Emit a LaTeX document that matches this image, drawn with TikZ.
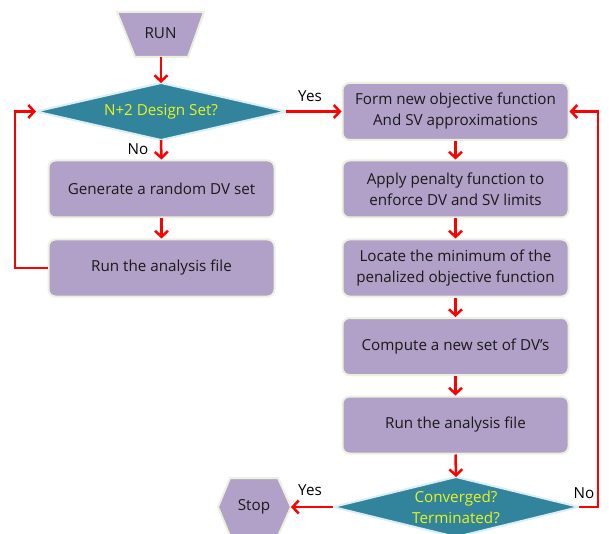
\documentclass[tikz,border=0pt]{standalone}
\usepackage{fontspec}
\setmainfont{Open Sans}
\usetikzlibrary{arrows.meta}
\definecolor{boxfill}{HTML}{B1A0C7}
\definecolor{boxedge}{HTML}{EBF1DE}
\definecolor{decfill}{HTML}{31849B}
\definecolor{decedge}{HTML}{DAEEF3}
\definecolor{ytext}{HTML}{E8F51C}
\definecolor{arrowred}{HTML}{FF0000}
\definecolor{txt}{HTML}{1A1A1A}
\tikzset{
  box/.style={draw=boxedge, line width=2pt, fill=boxfill, rounded corners=7pt,
    minimum width=226pt, minimum height=57pt, align=center,
    font=\fontsize{15.2}{21}\selectfont, text=txt, inner sep=0pt},
  shapeline/.style={draw=boxedge, line width=2pt, fill=boxfill},
  decline/.style={draw=decedge, line width=2pt, fill=decfill},
  dectext/.style={font=\fontsize{15.2}{21}\selectfont, text=ytext, align=center},
  plain/.style={font=\fontsize{15.2}{21}\selectfont, text=txt, align=center},
  flow/.style={draw=arrowred, line width=2.5pt, -{Straight Barb[length=6pt,width=13pt,line width=2.5pt]}},
  lbl/.style={font=\fontsize{15.2}{18}\selectfont, text=black, inner sep=0pt}
}
\begin{document}
\begin{tikzpicture}[x=1pt,y=-1pt]
\useasboundingbox (0,0) rectangle (609,534);

% RUN trapezoid
\path[shapeline] (117,12) -- (204,12) -- (188,57) -- (135,57) -- cycle;
\node[plain] (run) at (160.5,33) {RUN};
\coordinate (runb) at (161,57);

% diamond 1
\path[decline] (36,111.5) -- (161,83) -- (286,111.5) -- (161,140) -- cycle;
\node[dectext] (d1) at (161,111.5) {N+2 Design Set?};
\coordinate (d1t) at (161,83);
\coordinate (d1b) at (161,140);
\coordinate (d1l) at (36,111.5);
\coordinate (d1r) at (286,111.5);

% left column
\node[box] (gen) at (161.5,189) {Generate a random DV set};
\node[box] (runa) at (161.5,268) {Run the analysis file};

% right column
\node[box] (form) at (455.5,111.5) {Form new objective function\\And SV approximations};
\node[box] (pen) at (455.5,189) {Apply penalty function to\\enforce DV and SV limits};
\node[box] (loc) at (455.5,268) {Locate the minimum of the\\penalized objective function};
\node[box] (comp) at (455.5,346.5) {Compute a new set of DV's};
\node[box] (runb2) at (455.5,425) {Run the analysis file};

% diamond 2
\path[decline] (333,507) -- (456,477) -- (579,507) -- (456,537) -- cycle;
\node[dectext] (d2) at (456,507) {Converged?\\Terminated?};
\coordinate (d2t) at (456,477);
\coordinate (d2l) at (333,507);
\coordinate (d2r) at (579,507);

% Stop hexagon
\path[shapeline] (218,507) -- (230,478) -- (278,478) -- (291,507) -- (278,536) -- (230,536) -- cycle;
\node[plain] (stop) at (254,507) {Stop};
\coordinate (stopr) at (291,507);

% connectors
\draw[flow] (runb) -- (d1t);
\draw[flow] (d1b) -- (gen.north);
\draw[flow] (gen.south) -- (runa.north);
\draw[flow] (runa.west) -- (15,268) -- (15,111.5) -- (d1l);
\draw[flow] (d1r) -- (form.west);
\draw[flow] (form.south) -- (pen.north);
\draw[flow] (pen.south) -- (loc.north);
\draw[flow] (loc.south) -- (comp.north);
\draw[flow] (comp.south) -- (runb2.north);
\draw[flow] (runb2.south) -- (d2t);
\draw[flow] (d2r) -- (598,507) -- (598,111.5) -- (form.east);
\draw[flow] (d2l) -- (stopr);

% labels
\node[lbl] (no1) at (138,149) {No};
\node[lbl] (yes1) at (310,96) {Yes};
\node[lbl] (yes2) at (310,490) {Yes};
\node[lbl] (no2) at (584,493) {No};
\end{tikzpicture}
\end{document}
